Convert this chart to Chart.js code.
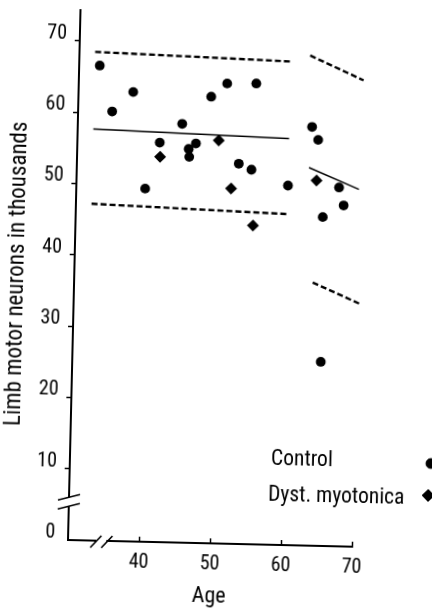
<!DOCTYPE html>
<html>
<head>
<meta charset="utf-8">
<script src="https://cdn.jsdelivr.net/npm/chart.js@4/dist/chart.umd.min.js"></script>
<style>
  html, body { margin: 0; padding: 0; background: #fff; overflow: hidden; }
  #wrap { width: 432px; height: 608px; position: relative; overflow: hidden; }
  #c { display: block; transform-origin: 68px 540px; transform: rotate(1.35deg); }
</style>
</head>
<body>
<div id="wrap"><canvas id="c" width="432" height="608"></canvas></div>
<script>
// ---- data ----
const controlAges    = [32.9, 34.8, 37.7, 39.7, 41.6, 44.7, 45.7, 45.8, 46.7, 48.7, 50.9, 55.0, 52.8, 54.6, 59.8, 63.0, 63.9, 67.0, 67.7, 64.8, 65.0];
const controlNeurons = [66.6, 60.2, 63.0, 49.5, 56.0, 58.7, 55.2, 54.1, 56.0, 62.6, 64.5, 64.6, 53.3, 52.5, 50.4, 58.7, 56.9, 50.3, 47.8, 46.1, 25.8];
const dystAges       = [41.7, 49.9, 51.8, 55.0, 63.8];
const dystNeurons    = [54.0, 56.5, 49.8, 44.7, 51.2];

// regression line and limits (two age groups)
const fitAgesA   = [32.2, 59.8];
const fitMeanA   = [57.7, 57.0];
const fitUpperA  = [68.5, 67.8];
const fitLowerA  = [47.2, 46.4];
const fitUpperAgesB = [62.5, 70.1];
const fitUpperB     = [68.7, 65.4];
const fitMeanAgesB  = [62.7, 69.8];
const fitMeanB      = [53.0, 50.1];
const fitLowerAgesB = [63.6, 70.2];
const fitLowerB     = [36.9, 34.1];

const xTickValues = [40, 50, 60, 70];
const yTickValues = [0, 10, 20, 30, 40, 50, 60, 70];
const legendLabels = ['Control', 'Dyst. myotonica'];
const yTitle = 'Limb motor neurons in thousands';
const xTitle = 'Age';
const yBreakValue = 5.3;
const xBreakValue = 34.7;

// ---- build ----
const FAM = "'Roboto Condensed', 'DejaVu Sans Condensed', sans-serif";
const pts = (xs, ys) => xs.map((x, i) => ({x: x, y: ys[i]}));

function lineSet(xs, ys, dashed) {
  return {
    type: 'scatter', data: pts(xs, ys), showLine: true, clip: false,
    borderColor: '#000', borderWidth: dashed ? 2.4 : 1.5,
    borderDash: dashed ? [6, 3] : [], pointRadius: 0, fill: false
  };
}

const breaksPlugin = {
  id: 'breaks',
  afterDraw(chart) {
    const ctx = chart.ctx, xs = chart.scales.x, ys = chart.scales.y;
    ctx.save();
    // y-axis break
    const ax = ys.right, by = ys.getPixelForValue(yBreakValue);
    ctx.fillStyle = '#fff';
    ctx.fillRect(ax - 3, by - 5, 6, 9);
    ctx.strokeStyle = '#000'; ctx.lineWidth = 1.6;
    [-5, 4].forEach(o => {
      ctx.beginPath(); ctx.moveTo(ax - 11, by + o + 3); ctx.lineTo(ax + 11, by + o - 3); ctx.stroke();
    });
    // x-axis break
    const bx = xs.getPixelForValue(xBreakValue), ay = xs.top;
    ctx.fillStyle = '#fff';
    ctx.fillRect(bx - 5, ay - 3, 10, 6);
    [-5.5, 5.5].forEach(o => {
      ctx.beginPath(); ctx.moveTo(bx + o - 5.5, ay + 7); ctx.lineTo(bx + o + 5.5, ay - 5); ctx.stroke();
    });
    ctx.restore();
  }
};

const legendPlugin = {
  id: 'sideLegend',
  afterDraw(chart) {
    const ctx = chart.ctx;
    const rows = [
      {text: legendLabels[0], ds: chart.data.datasets[0], tx: 269, ty: 455, mx: 429, my: 455},
      {text: legendLabels[1], ds: chart.data.datasets[1], tx: 267, ty: 491, mx: 427, my: 487}
    ];
    ctx.save();
    ctx.fillStyle = '#000';
    ctx.font = '21.5px ' + FAM;
    ctx.textBaseline = 'middle'; ctx.textAlign = 'left';
    rows.forEach(r => {
      ctx.fillText(r.text, r.tx, r.ty);
      ctx.fillStyle = '#000'; ctx.strokeStyle = '#000'; ctx.lineWidth = 1;
      Chart.helpers.drawPoint(ctx, {pointStyle: r.ds.pointStyle, radius: r.ds.pointRadius, borderWidth: 1, rotation: 0}, r.mx, r.my);
    });
    ctx.restore();
  }
};

new Chart(document.getElementById('c'), {
  type: 'scatter',
  data: {
    datasets: [
      {label: legendLabels[0], data: pts(controlAges, controlNeurons), pointStyle: 'circle', pointRadius: 4.9,
       backgroundColor: '#000', borderColor: '#000', borderWidth: 0},
      {label: legendLabels[1], data: pts(dystAges, dystNeurons), pointStyle: 'rectRot', pointRadius: 6,
       backgroundColor: '#000', borderColor: '#000', borderWidth: 0},
      lineSet(fitAgesA, fitMeanA, false),
      lineSet(fitAgesA, fitUpperA, true),
      lineSet(fitAgesA, fitLowerA, true),
      lineSet(fitUpperAgesB, fitUpperB, true),
      lineSet(fitMeanAgesB, fitMeanB, false),
      lineSet(fitLowerAgesB, fitLowerB, true)
    ]
  },
  options: {
    responsive: false,
    animation: false,
    devicePixelRatio: 1,
    layout: {padding: {top: 10, right: 80, left: 0, bottom: 0}},
    plugins: {legend: {display: false}, tooltip: {enabled: false}},
    scales: {
      x: {
        type: 'linear', min: 30, max: 70,
        afterBuildTicks: s => { s.ticks = xTickValues.map(v => ({value: v})); },
        afterFit: s => { s.height = 68; s.paddingLeft = 0; s.paddingRight = 0; },
        border: {display: true, color: '#000', width: 2},
        grid: {drawOnChartArea: false, drawTicks: true, tickLength: -5, tickColor: '#000', tickWidth: 1.5},
        ticks: {color: '#000', padding: 14, font: {family: FAM, size: 20}, maxRotation: 0},
        title: {display: true, text: xTitle, color: '#000', font: {family: FAM, size: 22, lineHeight: 1}, padding: {top: 0, bottom: 4}}
      },
      y: {
        type: 'linear', min: 0, max: 74.3,
        afterBuildTicks: s => { s.ticks = yTickValues.map(v => ({value: v})); },
        afterFit: s => { s.width = 68; s.paddingTop = 0; s.paddingBottom = 0; },
        border: {display: true, color: '#000', width: 2},
        grid: {drawOnChartArea: false, drawTicks: true, tickLength: 5,
               tickColor: c => (c.tick && c.tick.value === 0) ? 'rgba(0,0,0,0)' : '#000', tickWidth: 1.5},
        ticks: {color: '#000', padding: 8, labelOffset: -7, font: {family: FAM, size: 20}},
        title: {display: true, text: yTitle, color: '#000', font: {family: FAM, size: 23, lineHeight: 1}, padding: {top: 0, bottom: 0}}
      }
    }
  },
  plugins: [breaksPlugin, legendPlugin]
});
</script>
</body>
</html>
